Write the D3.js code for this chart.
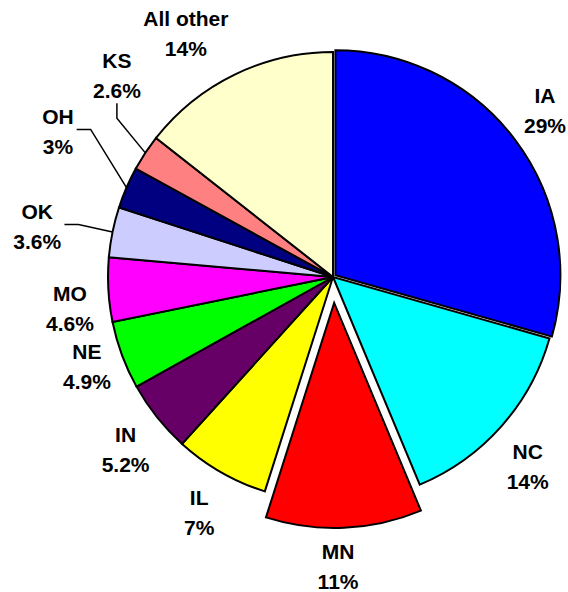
<!DOCTYPE html>
<meta charset="utf-8">
<style>
  body { margin: 0; background: #fff; }
  text { font-family: "Liberation Sans", Arial, sans-serif; font-weight: bold; font-size: 21px; fill: #000; }
</style>
<svg width="568" height="592"></svg>
<script src="https://cdn.jsdelivr.net/npm/d3@7"></script>
<script>

// data (clockwise from 12 o'clock)
var states = ["IA", "NC", "MN", "IL", "IN", "NE", "MO", "OK", "OH", "KS", "All other"];
var shares = [29.4, 14.3, 11.2, 6.8, 5.2, 4.9, 4.6, 3.6, 3.0, 2.6, 14.4];
var shareLabels = ["29%", "14%", "11%", "7%", "5.2%", "4.9%", "4.6%", "3.6%", "3%", "2.6%", "14%"];
var colors = ["#0000ff", "#00ffff", "#ff0000", "#ffff00", "#660066", "#00ff00", "#ff00ff", "#ccccff", "#000080", "#ff8080", "#ffffcc"];

// layout
var explode = [3, 0, 26, 0, 0, 0, 0, 0, 0, 0, 0];
// label placement: [angle in degrees from 12 o'clock, distance from centre]
var labelPolar = [[52, 269], [134.3, 272], [179, 290], [209.6, 271], [230.2, 270], [249.9, 262],
                  [263.1, 265], [279.6, 300], [297.8, 311], [312.9, 295], [328.8, 284]];
var withLeader = ["OK", "OH", "KS"];

var svg = d3.select("svg"), cx = 333, cy = 277, r = 225;
var g = svg.append("g").attr("transform", "translate(" + cx + "," + cy + ")");

var pie = d3.pie().sort(null).value(function(d) { return d.v; });
var arc = d3.arc().innerRadius(0).outerRadius(r);
var rows = states.map(function(s, i) { return { name: s, v: shares[i], lab: shareLabels[i], i: i }; });
var arcs = pie(rows);

function polar(a, d) { return [Math.sin(a) * d, -Math.cos(a) * d]; }
function mid(d) { return (d.startAngle + d.endAngle) / 2; }

g.selectAll("path.slice")
  .data(arcs)
  .enter().append("path")
    .attr("class", "slice")
    .attr("transform", function(d) {
      var p = polar(mid(d), explode[d.data.i]);
      return "translate(" + p[0] + "," + p[1] + ")";
    })
    .attr("d", arc)
    .attr("fill", function(d) { return colors[d.data.i]; })
    .attr("stroke", "#000")
    .attr("stroke-width", 2)
    .attr("stroke-linejoin", "miter");

var labels = g.selectAll("g.lab")
  .data(arcs)
  .enter().append("g")
    .attr("class", "lab")
    .attr("transform", function(d) {
      var lp = labelPolar[d.data.i];
      var p = polar(lp[0] * Math.PI / 180, lp[1]);
      return "translate(" + p[0] + "," + p[1] + ")";
    });

labels.append("text")
  .attr("text-anchor", "middle")
  .attr("dy", "-0.05em")
  .attr("y", -7)
  .text(function(d) { return d.data.name; });
labels.append("text")
  .attr("text-anchor", "middle")
  .attr("y", 22)
  .text(function(d) { return d.data.lab; });

// leader lines for the thin slices
labels.filter(function(d) { return withLeader.indexOf(d.data.name) > -1; })
  .each(function(d) {
    var lp = labelPolar[d.data.i];
    var c = polar(lp[0] * Math.PI / 180, lp[1]);
    var bb = this.getBBox();
    var start = polar(mid(d), r);
    var end, elbow;
    if (Math.cos(lp[0] * Math.PI / 180) > 0.6) {
      // label sits above: hang the line from its bottom
      end = [c[0], c[1] + bb.y + bb.height + 1];
      elbow = [end[0], end[1] + 15];
    } else {
      end = [c[0] + bb.x + bb.width + 3, c[1] + bb.y + bb.height / 2 - 2];
      elbow = [end[0] + 14, end[1]];
    }
    g.append("path")
      .attr("d", d3.line()([end, elbow, start]))
      .attr("fill", "none")
      .attr("stroke", "#000")
      .attr("stroke-width", 1.5);
  });

</script>
